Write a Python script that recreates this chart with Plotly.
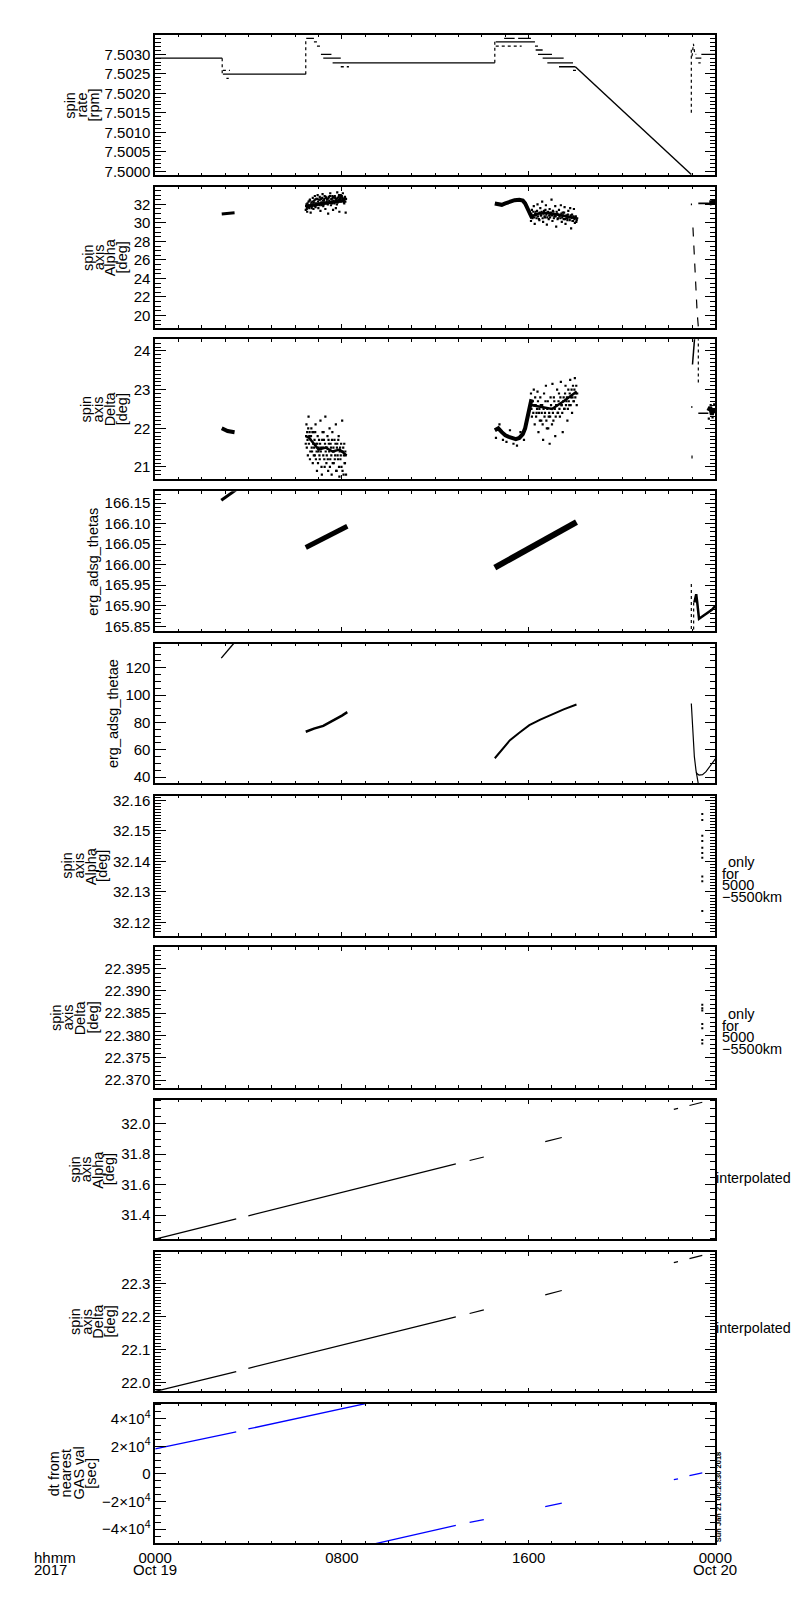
import plotly.graph_objects as go

# ---------------- DATA (hours since 0000 Oct 19 2017) ----------------
# Panel 1: spin rate [rpm]
rate_solid_t0 = [0.00, 2.90, 6.47, 7.10, 7.20, 7.60, 14.59, 14.95, 15.55, 16.30, 16.40, 16.60, 16.80, 17.30, 23.15, 23.40]
rate_solid_t1 = [2.87, 6.45, 6.80, 7.55, 7.95, 14.55, 16.27, 15.40, 16.10, 16.60, 17.00, 17.50, 17.90, 18.00, 23.40, 24.00]
rate_solid_v = [7.50290, 7.50249, 7.50341, 7.50300, 7.50290, 7.50278, 7.50332, 7.50341, 7.50341, 7.50311,
                7.50300, 7.50290, 7.50278, 7.50268, 7.50290, 7.50300]
rate_dot_t0 = [2.90, 3.05, 6.80, 6.93, 7.95, 14.59, 16.27, 17.90, 23.27]
rate_dot_t1 = [3.20, 3.15, 6.95, 7.10, 8.30, 15.70, 16.50, 18.10, 23.37]
rate_dot_v = [7.50259, 7.50238, 7.50332, 7.50321, 7.50268, 7.50321, 7.50321, 7.50259, 7.50278]
rate_jump_t = [2.87, 6.45, 14.55, 22.97]
rate_jump_v0 = [7.50290, 7.50249, 7.50278, 7.50150]
rate_jump_v1 = [7.50249, 7.50341, 7.50332, 7.50318]
rate_decay_t = [18.00, 22.97]
rate_decay_v = [7.50268, 7.49992]
rate_end_t = [23.00, 23.06, 23.12, 23.18]
rate_end_v = [7.50295, 7.50327, 7.50300, 7.50300]

# Panel 2: spin axis Alpha [deg]
alpha_a_t = [2.85, 3.40]
alpha_a_v = [30.95, 31.10]
cloudA_t = [6.45, 6.48, 6.51, 6.54, 6.57, 6.60, 6.63, 6.66, 6.69, 6.72,
            6.75, 6.78, 6.81, 6.84, 6.87, 6.90, 6.93, 6.96, 6.99, 7.02,
            7.05, 7.08, 7.11, 7.14, 7.17, 7.20, 7.23, 7.26, 7.29, 7.32,
            7.35, 7.38, 7.41, 7.44, 7.47, 7.50, 7.53, 7.56, 7.59, 7.62,
            7.65, 7.68, 7.71, 7.74, 7.77, 7.80, 7.83, 7.86, 7.89, 7.92,
            7.95, 7.98, 8.01, 8.04, 8.07, 8.10, 8.13, 8.16]
cloudA_t2 = [6.465, 6.495, 6.525, 6.555, 6.585, 6.615, 6.645, 6.675, 6.705, 6.735,
             6.765, 6.795, 6.825, 6.855, 6.885, 6.915, 6.945, 6.975, 7.005, 7.035,
             7.065, 7.095, 7.125, 7.155, 7.185, 7.215, 7.245, 7.275, 7.305, 7.335,
             7.365, 7.395, 7.425, 7.455, 7.485, 7.515, 7.545, 7.575, 7.605, 7.635,
             7.665, 7.695, 7.725, 7.755, 7.785, 7.815, 7.845, 7.875, 7.905, 7.935,
             7.965, 7.995, 8.025, 8.055, 8.085, 8.115, 8.145, 8.175]
alpha_cA_v = [31.4, 32.0, 31.2, 31.9, 32.3, 31.6, 32.5, 31.1, 32.2, 31.8,
              32.7, 31.5, 32.4, 32.9, 31.7, 32.6, 32.0, 33.0, 31.6, 32.5,
              32.8, 31.3, 32.6, 32.2, 33.1, 31.8, 32.4, 32.9, 31.5, 32.7,
              32.3, 32.6, 31.0, 32.8, 32.2, 33.2, 31.9, 32.5, 32.9, 31.4,
              32.8, 32.1, 32.7, 31.6, 32.4, 33.3, 32.2, 32.8, 31.2, 32.6,
              33.0, 32.3, 32.7, 33.2, 32.5, 32.1, 32.8, 31.1]
alpha_cA2_v = [31.8, 31.5, 32.1, 31.7, 31.9, 32.4, 31.8, 32.0, 31.6, 32.3,
               32.0, 32.2, 31.8, 32.5, 32.1, 31.9, 32.6, 32.3, 32.1, 31.9,
               32.5, 32.2, 31.9, 32.7, 32.4, 32.0, 32.6, 32.2, 32.8, 32.1,
               32.5, 32.0, 32.7, 32.4, 32.9, 32.2, 32.6, 32.1, 32.7, 32.4,
               32.2, 32.9, 32.4, 32.6, 32.0, 32.7, 32.5, 33.0, 32.3, 32.8,
               32.4, 32.9, 32.5, 32.6, 32.2, 32.7, 32.3, 32.6]
alpha_coreA_t = [6.45, 6.70, 7.00, 7.30, 7.60, 7.90, 8.15]
alpha_coreA_v = [31.70, 31.90, 32.00, 32.10, 32.20, 32.35, 32.45]
alpha_bandB_t = [14.55, 14.70, 14.85, 15.00, 15.20, 15.40, 15.60, 15.75, 15.85, 15.95, 16.05, 16.15]
alpha_bandB_v = [32.10, 32.00, 31.95, 32.10, 32.30, 32.45, 32.50, 32.40, 32.10, 31.60, 30.90, 30.50]
cloudC_t = [16.10, 16.14, 16.18, 16.22, 16.26, 16.30, 16.34, 16.38, 16.42, 16.46,
            16.50, 16.54, 16.58, 16.62, 16.66, 16.70, 16.74, 16.78, 16.82, 16.86,
            16.90, 16.94, 16.98, 17.02, 17.06, 17.10, 17.14, 17.18, 17.22, 17.26,
            17.30, 17.34, 17.38, 17.42, 17.46, 17.50, 17.54, 17.58, 17.62, 17.66,
            17.70, 17.74, 17.78, 17.82, 17.86, 17.90, 17.94, 17.98, 18.02, 18.06]
cloudC_t2 = [16.12, 16.16, 16.20, 16.24, 16.28, 16.32, 16.36, 16.40, 16.44, 16.48,
             16.52, 16.56, 16.60, 16.64, 16.68, 16.72, 16.76, 16.80, 16.84, 16.88,
             16.92, 16.96, 17.00, 17.04, 17.08, 17.12, 17.16, 17.20, 17.24, 17.28,
             17.32, 17.36, 17.40, 17.44, 17.48, 17.52, 17.56, 17.60, 17.64, 17.68,
             17.72, 17.76, 17.80, 17.84, 17.88, 17.92, 17.96, 18.00, 18.04, 18.08]
alpha_cC_v = [30.2, 31.4, 30.7, 31.8, 29.9, 31.2, 30.5, 32.0, 31.0, 30.3,
              31.6, 30.8, 32.3, 30.1, 31.3, 30.6, 31.9, 29.8, 31.1, 30.4,
              31.5, 30.9, 32.5, 30.2, 31.2, 30.7, 31.8, 29.6, 31.0, 30.5,
              31.4, 30.8, 31.9, 30.1, 31.1, 30.4, 31.7, 29.9, 30.8, 30.3,
              31.3, 30.6, 31.6, 29.4, 30.9, 30.2, 31.5, 30.0, 30.7, 30.3]
alpha_cC2_v = [30.9, 30.5, 31.2, 30.6, 31.0, 30.8, 31.3, 30.7, 30.4, 31.1,
               30.8, 31.2, 30.5, 31.0, 30.7, 31.4, 30.9, 30.6, 31.2, 30.8,
               30.6, 31.1, 30.8, 31.3, 30.5, 30.9, 30.7, 31.2, 30.4, 30.9,
               30.7, 30.5, 31.0, 30.6, 30.8, 31.1, 30.4, 30.7, 30.5, 30.9,
               30.6, 30.3, 30.8, 30.5, 30.2, 30.7, 30.4, 30.6, 30.1, 30.5]
alpha_coreC_t = [16.10, 16.40, 16.80, 17.20, 17.60, 18.05]
alpha_coreC_v = [30.70, 31.00, 31.10, 30.90, 30.70, 30.50]
alpha_drop_t = [23.04, 23.10, 23.16, 23.22, 23.28]
alpha_drop_v = [29.5, 26.2, 23.0, 20.3, 18.5]
alpha_end_t = [22.95, 23.00, None, 23.27, 23.70, 23.85, 24.00]
alpha_end_v = [32.00, 32.00, None, 32.10, 32.10, 32.20, 32.25]
alpha_clus_t = [23.75, 24.00]
alpha_clus_v = [32.15, 32.25]

# Panel 3: spin axis Delta [deg]
delta_a_t = [2.85, 3.10, 3.40]
delta_a_v = [22.00, 21.93, 21.90]
delta_cA_v = [21.6, 22.1, 21.9, 21.3, 22.3, 21.8, 21.2, 21.7, 22.0, 21.4,
              21.1, 21.9, 21.5, 21.3, 22.1, 21.6, 20.9, 21.8, 21.4, 21.7,
              21.2, 22.2, 21.5, 20.8, 21.9, 21.3, 21.7, 21.0, 22.3, 21.5,
              21.3, 21.8, 20.9, 21.6, 22.0, 21.2, 21.5, 20.8, 21.9, 21.4,
              21.1, 21.7, 21.3, 22.1, 20.9, 21.6, 21.2, 21.8, 20.75, 21.5,
              21.3, 21.0, 22.2, 21.4, 20.8, 21.6, 21.1, 21.3]
delta_cA2_v = [21.8, 21.5, 21.7, 22.0, 21.6, 21.9, 21.4, 21.8, 21.5, 21.9,
               21.6, 21.3, 21.7, 21.9, 21.2, 21.4, 21.6, 21.1, 21.5, 21.3,
               21.6, 21.4, 21.0, 21.7, 21.5, 21.9, 21.2, 21.6, 21.4, 21.1,
               21.5, 21.2, 21.7, 21.4, 21.0, 21.6, 21.3, 21.7, 21.1, 21.5,
               21.4, 21.2, 21.6, 20.9, 21.5, 21.3, 21.7, 21.0, 21.4, 21.2,
               21.6, 21.4, 20.9, 21.5, 21.3, 21.1, 21.4, 20.8]
delta_coreA_t = [6.45, 6.60, 6.80, 7.00, 7.30, 7.60, 7.90, 8.20]
delta_coreA_v = [21.80, 21.75, 21.60, 21.45, 21.50, 21.40, 21.45, 21.30]
delta_bandB_t = [14.55, 14.70, 14.85, 15.00, 15.15, 15.30, 15.45, 15.60, 15.75, 15.85, 15.95, 16.05, 16.12]
delta_bandB_v = [21.95, 22.00, 21.90, 21.82, 21.78, 21.75, 21.72, 21.75, 21.85, 22.00, 22.30, 22.60, 22.75]
delta_dotsB_t = [14.60, 14.75, 14.90, 15.05, 15.20, 15.35, 15.50, 15.65, 15.80]
delta_dotsB_v = [21.75, 22.10, 21.70, 21.65, 21.95, 21.60, 21.55, 21.90, 21.70]
delta_cC_v = [22.9, 22.3, 22.7, 23.0, 22.1, 22.6, 22.4, 22.95, 21.9, 22.5,
              22.8, 22.2, 22.6, 21.7, 22.9, 22.4, 23.1, 22.0, 22.7, 22.3,
              21.6, 22.8, 22.5, 23.15, 22.2, 22.7, 21.8, 22.6, 23.0, 22.4,
              22.9, 22.3, 23.2, 22.6, 21.9, 22.8, 22.5, 23.1, 22.7, 22.2,
              23.0, 22.6, 23.25, 22.8, 22.4, 23.1, 22.7, 23.3, 22.9, 22.6]
delta_cC2_v = [22.5, 22.7, 22.4, 22.6, 22.8, 22.3, 22.5, 22.7, 22.4, 22.2,
               22.6, 22.4, 22.1, 22.5, 22.3, 22.7, 22.2, 22.5, 22.0, 22.4,
               22.3, 22.6, 22.1, 22.4, 22.8, 22.5, 22.3, 22.6, 22.4, 22.7,
               22.5, 22.8, 22.6, 22.4, 22.7, 22.5, 22.9, 22.6, 22.8, 22.5,
               22.7, 22.9, 22.6, 23.0, 22.8, 22.7, 23.0, 22.8, 23.1, 22.9]
delta_coreC_t = [16.10, 16.50, 17.00, 17.50, 18.06]
delta_coreC_v = [22.60, 22.55, 22.50, 22.70, 22.95]
delta_end_t = [23.02, 23.07, 23.12, None, 22.96, 23.02, None, 23.27, 23.70]
delta_end_v = [23.65, 24.00, 24.40, None, 22.55, 22.55, None, 22.39, 22.39]
delta_enddot_t = [23.27, 23.27, None, 23.00, 23.00]
delta_enddot_v = [24.35, 23.15, None, 21.22, 21.33]
delta_clus_t = [23.70, 23.78, 23.85, 23.92, 24.00]
delta_clus_v = [22.45, 22.55, 22.35, 22.50, 22.40]
delta_clusdot_t = [23.72, 23.80, 23.88, 23.95]
delta_clusdot_v = [22.25, 22.60, 22.28, 22.62]

# Panel 4: erg_adsg_thetas
thetas_seg_t = [[2.83, 3.45], [6.45, 8.23], [14.55, 18.05]]
thetas_seg_v = [[166.157, 166.182], [166.042, 166.094], [165.993, 166.104]]
thetas_end_t = [23.10, 23.18, 23.22, 23.27, 23.30, 23.50, 23.70, 23.85, 24.00]
thetas_end_v = [165.908, 165.928, 165.910, 165.875, 165.868, 165.876, 165.884, 165.890, 165.900]
thetas_vdot_t = [22.97, 22.97, None, 23.07, 23.07]
thetas_vdot_v = [165.953, 165.836, None, 165.908, 165.836]

# Panel 5: erg_adsg_thetae
thetae_a_t = [2.83, 3.40]
thetae_a_v = [127.0, 138.5]
thetae_b_t = [6.45, 6.80, 7.20, 7.60, 8.00, 8.23]
thetae_b_v = [73.2, 75.5, 77.5, 81.0, 85.0, 87.5]
thetae_c_t = [14.55, 14.90, 15.20, 15.60, 16.03, 16.50, 17.00, 17.50, 18.05]
thetae_c_v = [53.8, 60.5, 67.0, 72.5, 78.0, 82.0, 85.8, 89.5, 93.1]
thetae_end1_t = [22.97, 23.03, 23.10, 23.17, 23.22, 23.28]
thetae_end1_v = [93.8, 75.0, 55.0, 45.0, 38.0, 34.0]
thetae_end2_t = [23.18, 23.22, 23.30, 23.45, 23.60, 23.80, 24.00]
thetae_end2_v = [43.6, 42.5, 41.5, 41.8, 44.0, 48.5, 53.3]

# Panel 6: spin axis Alpha, only for 5000-5500 km
alpha_alt_t = [23.44] * 10
alpha_alt_v = [32.1555, 32.1536, 32.1484, 32.1467, 32.1445, 32.1428, 32.1412, 32.1351, 32.1335, 32.1238]

# Panel 7: spin axis Delta, only for 5000-5500 km
delta_alt_t = [23.44] * 7
delta_alt_v = [22.3869, 22.3861, 22.3856, 22.3826, 22.3816, 22.3790, 22.3782]

# Panels 8-10: interpolated values, segments (start, end)
seg_t0 = [0.00, 3.99, 13.47, 16.71, 22.22, 22.89]
seg_t1 = [3.47, 12.88, 14.08, 17.42, 22.40, 23.44]
alpha_int_v0 = [31.243, 31.396, 31.759, 31.883, 32.094, 32.120]
alpha_int_v1 = [31.376, 31.737, 31.782, 31.910, 32.101, 32.141]
delta_int_v0 = [21.973, 22.043, 22.210, 22.267, 22.365, 22.377]
delta_int_v1 = [22.033, 22.200, 22.221, 22.280, 22.368, 22.387]
dt_t0 = [0.00, 3.99, 9.30, 13.47, 16.71, 22.22, 22.89]
dt_t1 = [3.47, 9.30, 12.88, 14.08, 17.42, 22.40, 23.44]
dt_v0 = [18200, 32600, -51000, -35000, -23700, -4100, -1200]
dt_v1 = [30500, 52000, -37300, -33000, -21200, -3500, 700]

# Axis settings per panel
y_ranges = [[7.4999, 7.50349], [18.68, 33.86], [20.69, 24.30], [165.838, 166.179], [35.4, 137.7],
            [32.1157, 32.1615], [22.3683, 22.3998], [31.243, 32.157], [21.973, 22.398], [-50230, 50880]]
y_dtick = [0.0005, 2, 1, 0.05, 20, 0.01, 0.005, 0.2, 0.1, 20000]
y_minor = [0.0001, 0.5, 0.1, 0.01, 5, 0.001, 0.001, 0.05, 0.01, 5000]
y_fmt = [".4f", "d", "d", ".2f", "d", ".2f", ".3f", ".1f", ".1f", None]
dt_tickvals = [-40000, -20000, 0, 20000, 40000]
dt_ticktext = ["−4×10<sup>4</sup>", "−2×10<sup>4</sup>", "0", "2×10<sup>4</sup>", "4×10<sup>4</sup>"]
x_tickvals = [0, 8, 16, 24]
x_ticktext = ["0000", "0800", "1600", "0000"]

y_titles = [["spin", "rate", "[rpm]"], ["spin", "axis", "Alpha", "[deg]"], ["spin", "axis", "Delta", "[deg]"],
            ["erg_adsg_thetas"], ["erg_adsg_thetae"], ["spin", "axis", "Alpha", "[deg]"],
            ["spin", "axis", "Delta", "[deg]"], ["spin", "axis", "Alpha", "[deg]"],
            ["spin", "axis", "Delta", "[deg]"], ["dt from", "nearest", "GAS val", "[sec]"]]

# ---------------- LAYOUT GEOMETRY (pixels) ----------------
W, H = 800, 1600
X0, X1 = 136, 721
tops = [23.3, 176, 329, 481.7, 634.7, 787.7, 940, 1093.3, 1246, 1398.7]
bots = [164, 317.3, 469.3, 622.3, 775.3, 928.3, 1081, 1233.3, 1386.3, 1539]
title_x0 = [47.5, 66.5, 64, 71.5, 92.5, 44, 33, 52.5, 51.5, 30]
title_pitch = [12.4, 11.6, 12.5, 0, 0, 12.2, 12.7, 12.0, 12.4, 12.7]

FONT = "Liberation Sans, Arial, sans-serif"
fig = go.Figure()


def ax(i):
    return ("x" if i == 0 else "x%d" % (i + 1)), ("y" if i == 0 else "y%d" % (i + 1))


def add(i, x, y, mode="lines", width=1.2, dash="solid", color="black", msize=2.2):
    xa, ya = ax(i)
    fig.add_trace(go.Scatter(x=x, y=y, xaxis=xa, yaxis=ya, mode=mode,
                             line=dict(color=color, width=width, dash=dash),
                             marker=dict(color=color, size=msize, symbol="square", line=dict(width=0)),
                             showlegend=False, hoverinfo="skip", connectgaps=False))


def runs(t0, t1, v):
    xs, ys = [], []
    for a, b, c in zip(t0, t1, v):
        xs += [a, b, None]
        ys += [c, c, None]
    return xs, ys


def segs(t0, t1, v0, v1):
    xs, ys = [], []
    for a, b, c, d in zip(t0, t1, v0, v1):
        xs += [a, b, None]
        ys += [c, d, None]
    return xs, ys


# Panel 1
x_, y_ = runs(rate_solid_t0, rate_solid_t1, rate_solid_v)
add(0, x_, y_, width=1.3)
x_, y_ = runs(rate_dot_t0, rate_dot_t1, rate_dot_v)
add(0, x_, y_, width=1.3, dash="dot")
x_, y_ = segs(rate_jump_t, rate_jump_t, rate_jump_v0, rate_jump_v1)
add(0, x_, y_, width=1.2, dash="dot")
add(0, rate_decay_t, rate_decay_v, width=1.4)
add(0, rate_end_t, rate_end_v, width=1.2, dash="dot")

# Panel 2
add(1, alpha_a_t, alpha_a_v, width=3)
add(1, alpha_coreA_t, alpha_coreA_v, width=3)
add(1, cloudA_t, alpha_cA_v, mode="markers")
add(1, cloudA_t2, alpha_cA2_v, mode="markers")
add(1, alpha_bandB_t, alpha_bandB_v, width=4)
add(1, alpha_coreC_t, alpha_coreC_v, width=2.5)
add(1, cloudC_t, alpha_cC_v, mode="markers")
add(1, cloudC_t2, alpha_cC2_v, mode="markers")
add(1, alpha_drop_t, alpha_drop_v, width=1.2, dash="dash")
add(1, alpha_end_t, alpha_end_v, width=1.6)
add(1, alpha_clus_t, alpha_clus_v, width=5)

# Panel 3
add(2, delta_a_t, delta_a_v, width=4)
add(2, delta_coreA_t, delta_coreA_v, width=2.5)
add(2, cloudA_t, delta_cA_v, mode="markers")
add(2, cloudA_t2, delta_cA2_v, mode="markers")
add(2, delta_bandB_t, delta_bandB_v, width=4)
add(2, delta_dotsB_t, delta_dotsB_v, mode="markers")
add(2, delta_coreC_t, delta_coreC_v, width=2.5)
add(2, cloudC_t, delta_cC_v, mode="markers")
add(2, cloudC_t2, delta_cC2_v, mode="markers")
add(2, delta_end_t, delta_end_v, width=1.5)
add(2, delta_enddot_t, delta_enddot_v, width=1.2, dash="dot")
add(2, delta_clus_t, delta_clus_v, width=4)
add(2, delta_clusdot_t, delta_clusdot_v, mode="markers")

# Panel 4
for tt, vv, w in zip(thetas_seg_t, thetas_seg_v, [3, 5, 6]):
    add(3, tt, vv, width=w)
add(3, thetas_end_t, thetas_end_v, width=2.5)
add(3, thetas_vdot_t, thetas_vdot_v, width=1.2, dash="dot")

# Panel 5
add(4, thetae_a_t, thetae_a_v, width=1.4)
add(4, thetae_b_t, thetae_b_v, width=2.5)
add(4, thetae_c_t, thetae_c_v, width=2)
add(4, thetae_end1_t, thetae_end1_v, width=1.2)
add(4, thetae_end2_t, thetae_end2_v, width=1.2)

# Panels 6, 7
add(5, alpha_alt_t, alpha_alt_v, mode="markers", msize=2)
add(6, delta_alt_t, delta_alt_v, mode="markers", msize=2)

# Panels 8-10
x_, y_ = segs(seg_t0, seg_t1, alpha_int_v0, alpha_int_v1)
add(7, x_, y_, width=1.2)
x_, y_ = segs(seg_t0, seg_t1, delta_int_v0, delta_int_v1)
add(8, x_, y_, width=1.2)
x_, y_ = segs(dt_t0, dt_t1, dt_v0, dt_v1)
add(9, x_, y_, width=1.3, color="#0000ff")

# Axes
layout = dict(width=W, height=H, margin=dict(l=0, r=0, t=0, b=0),
              paper_bgcolor="white", plot_bgcolor="white",
              font=dict(family=FONT, size=15, color="black"))
annotations = []
for i in range(10):
    xa, ya = ax(i)
    xkey = "xaxis" if i == 0 else "xaxis%d" % (i + 1)
    ykey = "yaxis" if i == 0 else "yaxis%d" % (i + 1)
    layout[xkey] = dict(domain=[X0 / W, X1 / W], range=[0, 24], anchor=ya,
                        tickmode="array", tickvals=x_tickvals, ticktext=x_ticktext,
                        showticklabels=(i == 9), ticks="inside", ticklen=4, tickwidth=1.2, tickcolor="black",
                        minor=dict(ticks="inside", dtick=1, tick0=0, ticklen=2.5, tickwidth=1, tickcolor="black"),
                        showline=True, linecolor="black", linewidth=1.5, mirror="allticks",
                        showgrid=False, zeroline=False, fixedrange=True,
                        tickfont=dict(family=FONT, size=15, color="black"))
    ydict = dict(domain=[1 - bots[i] / H, 1 - tops[i] / H], range=y_ranges[i], anchor=xa,
                 ticks="inside", ticklen=11, tickwidth=1.2, tickcolor="black",
                 minor=dict(ticks="inside", dtick=y_minor[i], ticklen=6, tickwidth=1, tickcolor="black"),
                 showline=True, linecolor="black", linewidth=1.5, mirror="allticks",
                 showgrid=False, zeroline=False, fixedrange=True,
                 tickfont=dict(family=FONT, size=15, color="black"))
    if i == 9:
        ydict.update(tickmode="array", tickvals=dt_tickvals, ticktext=dt_ticktext)
    else:
        ydict.update(tickmode="linear", tick0=0, dtick=y_dtick[i], tickformat=y_fmt[i])
    layout[ykey] = ydict

    yc = (tops[i] + bots[i]) / 2
    for k, line in enumerate(y_titles[i]):
        annotations.append(dict(text=line, x=(title_x0[i] + k * title_pitch[i]) / W, y=1 - yc / H,
                                xref="paper", yref="paper", showarrow=False, textangle=-90,
                                xanchor="center", yanchor="middle",
                                font=dict(family=FONT, size=14.5, color="black")))


def txt(s, xpx, ypx, size=15, xanchor="left", angle=0):
    annotations.append(dict(text=s, x=xpx / W, y=1 - ypx / H, xref="paper", yref="paper",
                            showarrow=False, xanchor=xanchor, yanchor="middle", textangle=angle,
                            font=dict(family=FONT, size=size, color="black")))


for yy, s, xx in zip([854, 866, 877.5, 889], ["only", "for", "5000", "−5500km"], [732, 726, 726, 726]):
    txt(s, xx, yy, size=14.5)
for yy, s, xx in zip([1007.5, 1019, 1030.5, 1042], ["only", "for", "5000", "−5500km"], [732, 726, 726, 726]):
    txt(s, xx, yy, size=14.5)
txt("interpolated", 719.5, 1172, size=14.3)
txt("interpolated", 719.5, 1323, size=14.3)
txt("hhmm", 7, 1553)
txt("2017", 7, 1565)
txt("Oct 19", 136, 1565, xanchor="center")
txt("Oct 20", 721, 1565, xanchor="center")
annotations.append(dict(text="<b>Sun Jan 21 00:28:30 2018</b>", x=724.5 / W, y=1 - 1493 / H,
                        xref="paper", yref="paper", showarrow=False, textangle=-90,
                        xanchor="center", yanchor="middle",
                        font=dict(family=FONT, size=7.5, color="black")))
layout["annotations"] = annotations
fig.update_layout(**layout)
fig.write_html("out.html")
